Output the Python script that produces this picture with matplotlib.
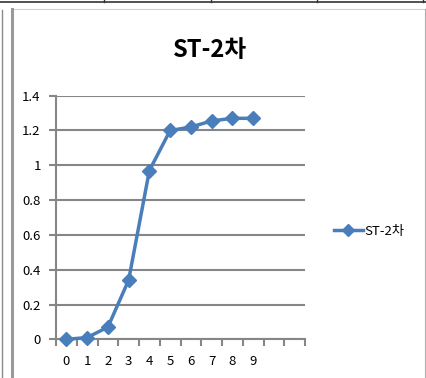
import matplotlib
matplotlib.use("Agg")
import matplotlib.pyplot as plt
from matplotlib.lines import Line2D

plt.rcParams['font.family'] = ['Noto Sans CJK KR', 'DejaVu Sans']

categories = ['0', '1', '2', '3', '4', '5', '6', '7', '8', '9', '', '']
values = [0.0, 0.01, 0.07, 0.34, 0.97, 1.20, 1.22, 1.255, 1.27, 1.27]
series_name = 'ST-2차'
title = 'ST-2차'
ytick_vals = [0, 0.2, 0.4, 0.6, 0.8, 1.0, 1.2, 1.4]
ytick_labels = ['0', '0.2', '0.4', '0.6', '0.8', '1', '1.2', '1.4']

W, H = 426, 378
fig = plt.figure(figsize=(W / 100, H / 100), dpi=100)
fig.patch.set_facecolor('white')

def px(x, y):
    return x / W, 1 - y / H

# surrounding spreadsheet decorations
def fline(x0, y0, x1, y1, color, lw):
    (a, b), (c, d) = px(x0, y0), px(x1, y1)
    fig.add_artist(Line2D([a, c], [b, d], color=color, lw=lw, transform=fig.transFigure))

fline(0, 1.5, W, 1.5, '#333333', 1.2)
for xv in [103.5, 211, 317, 423]:
    fline(xv, 0, xv, 2, '#333333', 1.0)
fline(12, 8.5, W, 8.5, '#d0d0d0', 0.8)
fline(425, 8.5, 425, H, '#b0b0b0', 0.8)
fline(1.5, 10, 1.5, H, '#8a8a8a', 1.0)
fline(12, 8.5, 12, H, '#9a9a9a', 2.2)

left, right = 56, 305
top, bottom = 95.7, 339.3
ax = fig.add_axes([left / W, 1 - bottom / H, (right - left) / W, (bottom - top) / H])

n = len(categories)
xs = [i + 0.5 for i in range(len(values))]
ax.plot(xs, values, color='#4A7EBB', lw=2.5, marker='D', markersize=7.5,
        markeredgecolor='#4A7EBB', markerfacecolor='#4A7EBB', zorder=5, clip_on=False)

ax.set_xlim(0, n)
ax.set_ylim(0, 1.4)
ax.set_yticks(ytick_vals)
ax.set_yticklabels(ytick_labels)
ax.set_xticks(range(n + 1))
ax.set_xticklabels([''] * (n + 1))
ax.set_xticks([i + 0.5 for i in range(n)], minor=True)
ax.set_xticklabels(categories, minor=True)

grid_c = '#868686'
ax.yaxis.grid(True, color=grid_c, lw=1.5)
ax.set_axisbelow(True)
for s in ['top', 'right']:
    ax.spines[s].set_visible(False)
for s in ['left', 'bottom']:
    ax.spines[s].set_color(grid_c)
    ax.spines[s].set_linewidth(1.5)
ax.tick_params(axis='y', which='major', length=5, width=1.5, color=grid_c, labelsize=9.5, pad=6)
ax.tick_params(axis='x', which='major', length=5, width=1.5, color=grid_c, labelsize=9.5)
ax.tick_params(axis='x', which='minor', length=0, labelsize=9.5, pad=11)

fig.text(210 / W, 1 - 50 / H, title, ha='center', va='center', fontsize=17, fontweight='bold')

h = Line2D([0], [0], color='#4A7EBB', lw=2.5, marker='D', markersize=6)
fig.legend([h], [series_name], loc='center left', bbox_to_anchor=(322 / W, 1 - 231 / H),
           frameon=False, fontsize=9.5, handlelength=2.2, handletextpad=0.1)

fig.savefig('out.png', dpi=100)
